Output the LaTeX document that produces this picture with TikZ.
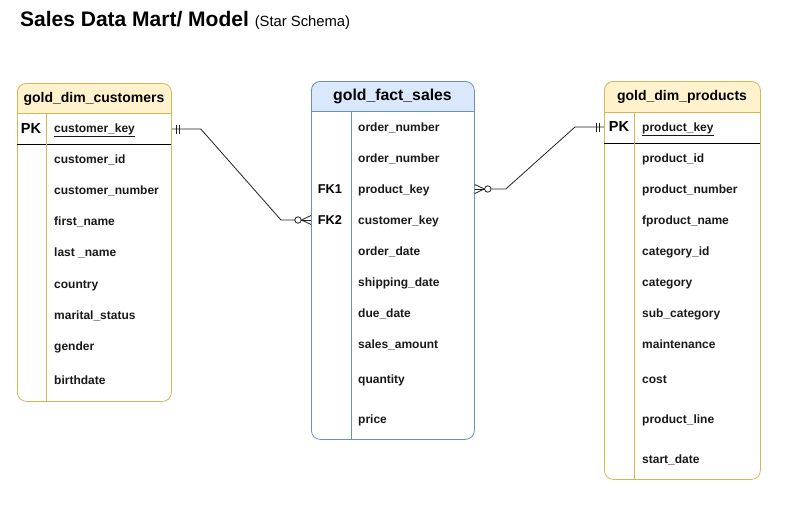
\documentclass[tikz,border=0pt]{standalone}
\usepackage{fontspec}
\setmainfont{Liberation Sans}
\usetikzlibrary{calc}
\definecolor{yfill}{HTML}{FFF2CC}
\definecolor{ydraw}{HTML}{D6B656}
\definecolor{bfill}{HTML}{DAE8FC}
\definecolor{bdraw}{HTML}{6C8EBF}
\definecolor{lnk}{HTML}{222222}
\tikzset{
  fld/.style={anchor=west, inner sep=0pt, text height=9pt, text depth=3pt, font=\fontsize{12}{14}\selectfont\bfseries, text=black!90},
  keyl/.style={anchor=center, inner sep=0pt, text height=10.5pt, text depth=3pt, font=\fontsize{14.5}{17}\selectfont\bfseries},
  hdr/.style={anchor=center, inner sep=0pt, text height=10.5pt, text depth=3.5pt, font=\fontsize{14}{17}\selectfont\bfseries},
  link/.style={draw=lnk, line width=0.8pt},
}
\begin{document}
\begin{tikzpicture}[x=1pt,y=-1pt]
\useasboundingbox (0,0) rectangle (808,506);
% title
\node[anchor=base west, inner sep=0pt] (title) at (20,27) {\fontsize{21}{25}\selectfont\bfseries Sales Data Mart/ Model\ \fontsize{14.8}{17}\selectfont\mdseries (Star Schema)};

% ---------- customers ----------
\fill[yfill] (17,113) [rounded corners=9pt] -- (17,83) -- (171,83) [sharp corners] -- (171,113) -- cycle;
\node[draw=ydraw, line width=0.8pt, rounded corners=9pt, minimum width=154pt, minimum height=318pt, inner sep=0pt, anchor=north west] (custbox) at (17,83) {};
\draw[ydraw, line width=0.8pt] (17,113) -- (171,113);
\draw[black, line width=0.8pt] (17,144) -- (171,144);
\draw[ydraw, line width=0.8pt] (46,113) -- (46,401);
\node[hdr] (custh) at (94,98.5) {gold\_dim\_customers};
\node[keyl] (cpk) at (31,129.5) {PK};
\node[fld] (ckey) at (54,129.5) {\underline{customer\_key}};
\node[fld] (cid) at (54,160) {customer\_id};
\node[fld] (cnum) at (54,191) {customer\_number};
\node[fld] (cfn) at (54,222) {first\_name};
\node[fld] (cln) at (54,253) {last \_name};
\node[fld] (cco) at (54,285) {country};
\node[fld] (cms) at (54,316) {marital\_status};
\node[fld] (cge) at (54,347) {gender};
\node[fld] (cbd) at (54,381) {birthdate};

% ---------- fact ----------
\fill[bfill] (311,111) [rounded corners=9pt] -- (311,81) -- (474,81) [sharp corners] -- (474,111) -- cycle;
\node[draw=bdraw, line width=0.8pt, rounded corners=9pt, minimum width=163pt, minimum height=358pt, inner sep=0pt, anchor=north west] (factbox) at (311,81) {};
\draw[bdraw, line width=0.8pt] (311,111) -- (474,111);
\draw[bdraw, line width=0.8pt] (351,111) -- (351,439);
\node[hdr, text height=11.5pt, font=\fontsize{15.8}{19}\selectfont\bfseries] (facth) at (392.5,96.5) {gold\_fact\_sales};
\node[fld] (fon1) at (358,128) {order\_number};
\node[fld] (fon2) at (358,159) {order\_number};
\node[keyl, text height=9.5pt, font=\fontsize{12.8}{15}\selectfont\bfseries] (fk1) at (330,190) {FK1};
\node[fld] (fpk) at (358,190) {product\_key};
\node[keyl, text height=9.5pt, font=\fontsize{12.8}{15}\selectfont\bfseries] (fk2) at (330,221) {FK2};
\node[fld] (fck) at (358,221) {customer\_key};
\node[fld] (fod) at (358,252) {order\_date};
\node[fld] (fsd) at (358,283) {shipping\_date};
\node[fld] (fdd) at (358,314) {due\_date};
\node[fld] (fsa) at (358,345) {sales\_amount};
\node[fld] (fqt) at (358,380) {quantity};
\node[fld] (fpr) at (358,420) {price};

% ---------- products ----------
\fill[yfill] (604,112) [rounded corners=9pt] -- (604,81) -- (760,81) [sharp corners] -- (760,112) -- cycle;
\node[draw=ydraw, line width=0.8pt, rounded corners=9pt, minimum width=156pt, minimum height=398pt, inner sep=0pt, anchor=north west] (prodbox) at (604,81) {};
\draw[ydraw, line width=0.8pt] (604,112) -- (760,112);
\draw[black, line width=0.8pt] (604,143) -- (760,143);
\draw[ydraw, line width=0.8pt] (634,112) -- (634,479);
\node[hdr] (prodh) at (682,97) {gold\_dim\_products};
\node[keyl] (ppk) at (619,128) {PK};
\node[fld] (pkey) at (642,128) {\underline{product\_key}};
\node[fld] (pid) at (642,159) {product\_id};
\node[fld] (pnum) at (642,190) {product\_number};
\node[fld] (pname) at (642,221) {fproduct\_name};
\node[fld] (pcid) at (642,252) {category\_id};
\node[fld] (pcat) at (642,283) {category};
\node[fld] (psub) at (642,314) {sub\_category};
\node[fld] (pmnt) at (642,345) {maintenance};
\node[fld] (pcost) at (642,380) {cost};
\node[fld] (pline) at (642,420) {product\_line};
\node[fld] (pstart) at (642,460) {start\_date};

% ---------- connectors ----------
% customers (one, mandatory) -> fact (zero or many)
\coordinate (c1) at (custbox.east |- 0,129);
\coordinate (c2) at (factbox.west |- 0,220);
\draw[link] (c1) -- ++(29,0) -- ($(c2)+(-30,0)$) -- ($(c2)+(-16,0)$);
\draw[link] ($(c1)+(5,-4.5)$) -- ++(0,9);
\draw[link] ($(c1)+(7.5,-4.5)$) -- ++(0,9);
\draw[link] ($(c2)+(-13,0)$) circle (3.2pt);
\draw[link] ($(c2)+(-9.5,0)$) -- ($(c2)+(0,-4.5)$);
\draw[link] ($(c2)+(-9.5,0)$) -- ($(c2)+(0,4.5)$);
\draw[link] ($(c2)+(-10,0)$) -- (c2);

% fact (zero or many) -> products (one, mandatory)
\coordinate (d1) at (factbox.east |- 0,189);
\coordinate (d2) at (prodbox.west |- 0,127);
\draw[link] ($(d1)+(16,0)$) -- ++(15,0) -- ($(d2)+(-29,0)$) -- (d2);
\draw[link] ($(d1)+(13,0)$) circle (3.2pt);
\draw[link] ($(d1)+(9.5,0)$) -- ($(d1)+(0,-4.5)$);
\draw[link] ($(d1)+(9.5,0)$) -- ($(d1)+(0,4.5)$);
\draw[link] ($(d1)+(10,0)$) -- (d1);
\draw[link] ($(d2)+(-5,-4.5)$) -- ++(0,9);
\draw[link] ($(d2)+(-7.5,-4.5)$) -- ++(0,9);
\end{tikzpicture}
\end{document}
